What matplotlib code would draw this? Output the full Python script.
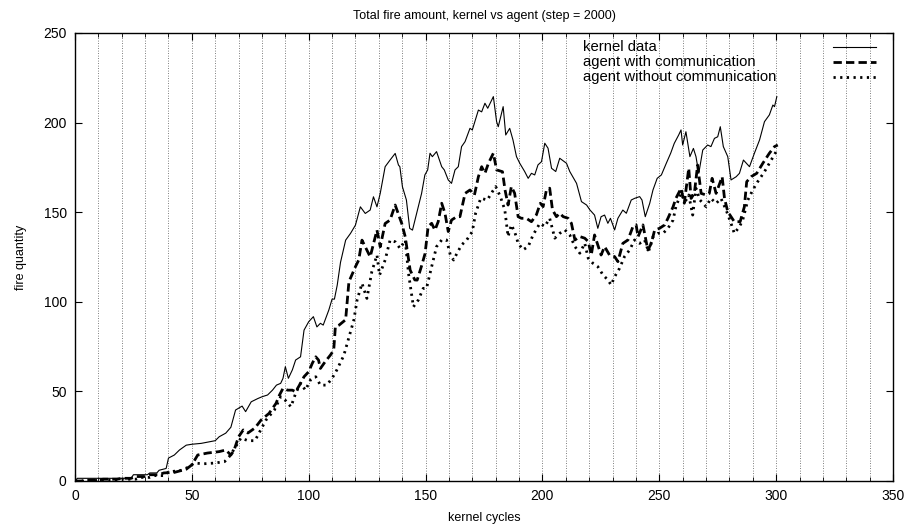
import matplotlib
matplotlib.use("Agg")
import matplotlib.pyplot as plt
from matplotlib.ticker import MultipleLocator

plt.rcParams['font.family'] = ['Liberation Sans', 'DejaVu Sans']

# ---- data ----
kernel_x = [0, 1, 24, 25, 31, 32, 35, 36, 39, 40, 42.5, 44.7, 47.6, 50, 54, 60, 61.7, 64.5, 66.7, 68.7,
            71.5, 73, 75.4, 78.2, 80, 82.4, 84.5, 86.2, 88, 89, 90, 91.3, 93, 94.4, 96.5, 98, 100, 102,
            103.5, 105, 106.2, 108.6, 110, 111, 112.2, 113.6, 115.8, 117.9, 120, 122.1, 124.2, 126.3,
            127.7, 129.2, 130.6, 132.7, 134.8, 137, 138.4, 139, 140.1, 141.8, 143.2, 144.4, 145.3,
            147.1, 148.3, 149.7, 150.9, 151.9, 152.9, 154.7, 156.9, 158, 159.7, 161.1, 162.6, 164,
            165.4, 166.9, 169, 170, 172.6, 174, 175.4, 176.6, 179, 180.4, 181.1, 183.2, 184.3, 186,
            187.4, 188.9, 190.3, 192.4, 193.9, 195.3, 196.7, 198.1, 199.6, 201, 202.4, 203.9, 205.7,
            207.4, 210.3, 211.7, 214.6, 216.7, 218.9, 220.3, 222.3, 223.7, 225.1, 226.6, 228, 229.1,
            230.9, 232.3, 234.4, 235.9, 238, 239.4, 241.6, 242.6, 244, 245.9, 247.3, 249.1, 250.9,
            253, 254.9, 256.4, 258.3, 259.3, 260, 261.4, 263.1, 264.6, 265.7, 266.9, 268.6, 270.7,
            272.1, 273.6, 275, 276.1, 277.4, 279.3, 280.7, 282.9, 284.3, 286, 288.6, 290.7, 292.9,
            295, 297.1, 298.6, 299.3, 300.3]
kernel_y = [0, 1.5, 1.5, 3.5, 3.5, 4.5, 4.5, 6, 7, 12.8, 14.5, 17.3, 20, 20.5, 21, 22.5, 24.7, 26.7, 30,
            39.6, 41.8, 38.7, 44.2, 46, 47, 48, 50.7, 53.5, 54.5, 57.3, 63.8, 57.3, 62, 67.5, 69.3,
            84.2, 88.9, 91.7, 86, 88, 87, 95.4, 101.5, 101.5, 109.3, 122, 134.4, 138.2, 142.8, 153,
            149.3, 151.2, 158.6, 153, 160.5, 175.4, 179.1, 182.8, 176.3, 175.4, 164.2, 156.8, 141,
            140, 144.7, 154, 160.5, 170.8, 173.6, 182.9, 181, 183.8, 175.4, 173.6, 168, 166.1, 173.6,
            175.4, 186.6, 189.4, 196.8, 195.9, 207, 206, 210.8, 208, 214.5, 200.5, 197.7, 208.9,
            193.1, 196.8, 190.3, 181, 177.3, 172.7, 168.9, 171.7, 170.8, 176.4, 178.2, 188.5, 185.7,
            174.5, 172.7, 180.1, 177.3, 172.7, 166.1, 155.9, 154, 151.3, 148.4, 141, 147.5, 148.4,
            143.8, 146.6, 140.1, 146.6, 151.2, 149.4, 156.8, 157.7, 158.7, 156.8, 147.5, 154.9,
            162.4, 168.9, 170.8, 177.3, 183, 188.4, 193.1, 195.9, 187.5, 194.9, 181, 185.6, 181,
            171.7, 184.7, 187.5, 186.6, 191.2, 192.1, 197.7, 186.6, 181, 168, 169.8, 171.7, 179.1,
            175.4, 182.9, 190.3, 200.5, 204.3, 209.8, 208.9, 214.5]

comm_x = [0, 3, 4, 10, 12, 18, 20, 24, 26, 30, 32, 36, 38, 42.5, 47.6, 50, 52.5, 56.7, 61.7, 64.5,
          66.7, 68, 70, 72, 74, 77, 79.6, 83, 86, 87.5, 89, 91, 93, 94.4, 96.5, 98, 100, 101.5, 103,
          104.2, 105, 107, 109.3, 110.7, 111.4, 113, 115.8, 117.2, 120, 121.4, 122.8, 126.3, 129.2,
          130.6, 132.7, 134.8, 137, 139.8, 141.3, 143.4, 145.4, 146.4, 148.4, 149.8, 151.1, 152.6,
          154, 155.4, 156.9, 158.3, 159.7, 161.1, 163.3, 164.7, 166.9, 169, 170.9, 172.6, 174,
          175.4, 176.9, 179, 180.4, 182.9, 184, 185.3, 186.7, 188.1, 189.6, 191, 193.1, 195.3,
          197.4, 199.1, 200.3, 201.7, 203.1, 204.3, 206, 207.4, 208.9, 211, 212.4, 213.9, 216,
          218.1, 219.6, 220.9, 222.3, 223.7, 225.1, 226.6, 228.7, 230.9, 232.3, 234.4, 236.6,
          238.7, 240.1, 240.9, 243, 245.1, 246.6, 248, 250.1, 252.3, 253.7, 255.9, 257.1, 259.3,
          260.7, 262.6, 263.6, 265, 266.4, 267.9, 270, 271.4, 272.6, 274.3, 276.9, 277.9, 279.3,
          280.7, 282.1, 284.6, 286.4, 287.4, 289.3, 291.7, 294.3, 297.1, 299.3, 300.7]
comm_y = [0, 0, 0.5, 0.5, 1, 1, 1.5, 1.5, 2.5, 2.5, 3.5, 3.5, 4.5, 4.8, 6.6, 9, 14.5, 15.6, 16.4,
          17.3, 14.5, 17, 24.7, 28.5, 26.8, 29.6, 34, 37.7, 43.3, 48, 51.7, 50.7, 50.7, 49.8, 54.5,
          58.2, 61, 65.6, 69.3, 67.5, 62.8, 66.5, 70.3, 73, 86, 87, 90, 111.2, 119.6, 123.3, 134.4,
          125.1, 140, 130.7, 143.7, 145.6, 154, 143.7, 136.3, 117.7, 112.2, 112.1, 120.5, 127, 142,
          143.8, 140, 144.7, 155, 149.4, 139.2, 145.6, 147.5, 147.5, 160.5, 162.4, 159.6, 169.8,
          175.4, 171.7, 177.3, 182.9, 173.6, 172.6, 162.4, 154, 164.3, 160.6, 147.5, 146.6, 146.6,
          144.7, 148.5, 155, 153.1, 162.4, 163.4, 151.3, 147.5, 149.4, 147.5, 146.6, 143.8, 134.5,
          136.4, 135.5, 133.6, 126.1, 137.3, 131.7, 126.1, 130.8, 126.1, 125.2, 122.4, 132.6,
          134.5, 141.9, 142.9, 136.3, 142.9, 128.9, 132.6, 140, 141, 142.9, 146.6, 153, 157.7,
          163.3, 155, 174.5, 157.7, 160.5, 176.3, 160.5, 159.6, 160.5, 168.9, 160.5, 169.8, 157.7,
          150.3, 147.5, 144.7, 144.7, 153, 167, 169.8, 171.7, 177.3, 182.9, 186.6, 187.5]

nocomm_x = [0, 8, 10, 18, 20, 26, 28, 32, 34, 38, 40, 45.5, 48.3, 51, 55, 59.6, 64, 66, 67, 71, 74,
            77, 81.7, 85.3, 88, 90, 92.4, 94.4, 96.5, 98.6, 100.7, 103, 105, 107.7, 110, 112, 115,
            119.3, 120.7, 122.8, 124.9, 127, 129.2, 130.3, 132.7, 134.8, 137, 139.1, 141.3, 142.7,
            144.8, 146.9, 149, 150.4, 152.6, 154.7, 156.9, 159, 160.6, 162, 163.4, 165.4, 167.6,
            170, 171.4, 173.6, 176.4, 178.6, 180, 182, 183.9, 185.3, 186.7, 188.1, 189.6, 191.7,
            193.9, 196, 198.9, 201, 203.1, 205.3, 207.4, 209.6, 211.7, 213.9, 216, 218.1, 219.6,
            221.6, 223.7, 225.9, 228, 229.4, 230.9, 233, 235.1, 237.3, 239.4, 241.6, 243.7, 245.4,
            247.3, 249.4, 251.6, 253.7, 255.9, 257.1, 259.3, 261.1, 262.6, 264.3, 265.7, 267.4, 270,
            272.1, 274.3, 276.4, 278.6, 280.7, 282.1, 284.3, 285.7, 287.9, 290, 292.1, 295, 297.1,
            300]
nocomm_y = [0, 0, 0.5, 0.5, 1, 1, 2, 2, 3, 3, 5, 6, 7.6, 10, 9.6, 10, 10.8, 13.6, 15.5, 24, 22.5,
            22.5, 34, 39.6, 47, 45, 41.4, 48.9, 54.5, 50.7, 56.3, 58.2, 53.5, 53.5, 57.3, 61.9, 70,
            89.8, 101, 110.3, 101.9, 116.8, 126.1, 114.9, 123.3, 134.4, 133.5, 129.8, 134.4, 115.8,
            97.2, 101, 107.5, 107.5, 119.6, 130.8, 134.5, 134.5, 126.1, 123.3, 127, 131.7, 134.5,
            139.2, 149.4, 157.8, 156.8, 161.5, 164.3, 158.7, 151.3, 136.4, 142.9, 139.2, 132.7,
            129, 130.8, 137.3, 143.8, 142, 146.6, 135.5, 138.2, 140.1, 137.3, 130.8, 127.1, 132.7,
            124.3, 121.5, 119.6, 115, 112.2, 109.4, 114, 118.7, 125.2, 128.9, 134.5, 132.6, 134.5,
            128, 136.3, 138.2, 138.2, 141, 145.6, 153.1, 160.5, 155.9, 159.6, 148.4, 163.3, 156.8,
            153.1, 157.7, 154.9, 157.7, 151.2, 143.8, 138.2, 141.9, 145.6, 156.8, 162.4, 167, 172.6,
            177.3, 183.8]

labels = ["kernel data", "agent with communication", "agent without communication"]
title = "Total fire amount, kernel vs agent (step = 2000)"

fig = plt.figure(figsize=(9.16, 5.31), dpi=100)
ax = fig.add_axes([75 / 916, 1 - 481 / 531, (893 - 75) / 916, (481 - 33) / 531])

styles = [dict(lw=0.8, linestyle='-'),
          dict(lw=2.0, dashes=(3, 1.5)),
          dict(lw=2.0, dashes=(0.8, 1.6))]
series = [(kernel_x, kernel_y), (comm_x, comm_y), (nocomm_x, nocomm_y)]
for (xs, ys), st, lab in zip(series, styles, labels):
    ax.plot(xs, ys, color='black', label=lab, **st)

ax.set_xlim(0, 350)
ax.set_ylim(0, 250)
ax.xaxis.set_major_locator(MultipleLocator(50))
ax.xaxis.set_minor_locator(MultipleLocator(10))
ax.yaxis.set_major_locator(MultipleLocator(50))
ax.tick_params(which='both', direction='in', top=True, right=True, labelsize=10, pad=6)
ax.tick_params(which='major', length=5, width=0.8)
ax.tick_params(which='minor', length=3, width=0.6)
ax.grid(True, axis='x', which='both', color='#555555', linestyle=(0, (1, 2)), linewidth=0.6)
for s in ax.spines.values():
    s.set_linewidth(1.0)

ax.set_title(title, fontsize=9, pad=10)
ax.set_xlabel("kernel cycles", fontsize=9, labelpad=6)
ax.set_ylabel("fire quantity", fontsize=9, labelpad=12)

# gnuplot-style key: labels left-aligned, line samples at the right
key_text_x = 0.621
key_line_x = (0.927, 0.979)
key_rows = [0.969, 0.935, 0.902]
for st, lab, yk in zip(styles, labels, key_rows):
    ax.text(key_text_x, yk, lab, transform=ax.transAxes, ha='left', va='center', fontsize=10.7)
    ax.plot(key_line_x, (yk, yk), transform=ax.transAxes, color='black', **st)

fig.savefig("out.png", dpi=100)
